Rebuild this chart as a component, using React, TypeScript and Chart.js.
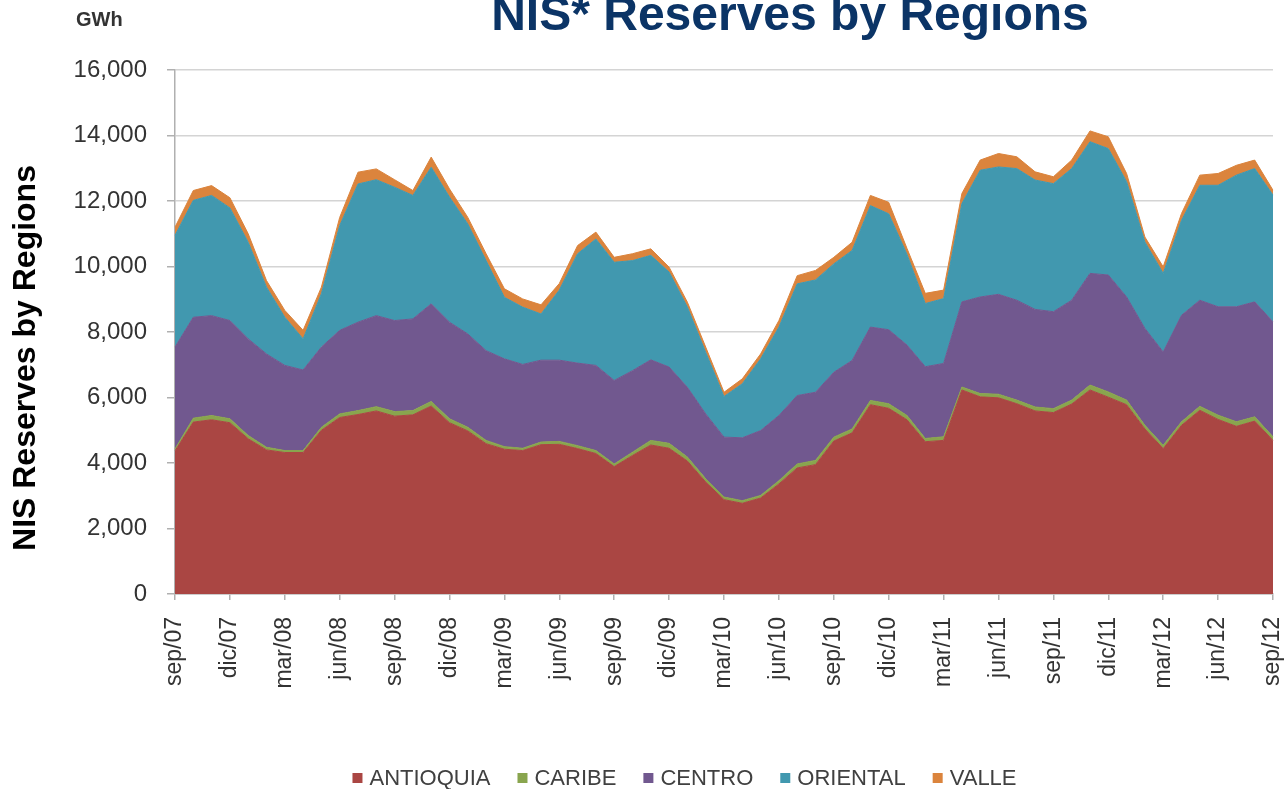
import React, { useEffect, useRef } from 'react';
import { Chart, registerables } from 'chart.js';

Chart.register(...registerables);

const categories = [
  'sep/07', 'oct/07', 'nov/07', 'dic/07',
  'ene/08', 'feb/08', 'mar/08', 'abr/08', 'may/08', 'jun/08', 'jul/08', 'ago/08', 'sep/08', 'oct/08', 'nov/08', 'dic/08',
  'ene/09', 'feb/09', 'mar/09', 'abr/09', 'may/09', 'jun/09', 'jul/09', 'ago/09', 'sep/09', 'oct/09', 'nov/09', 'dic/09',
  'ene/10', 'feb/10', 'mar/10', 'abr/10', 'may/10', 'jun/10', 'jul/10', 'ago/10', 'sep/10', 'oct/10', 'nov/10', 'dic/10',
  'ene/11', 'feb/11', 'mar/11', 'abr/11', 'may/11', 'jun/11', 'jul/11', 'ago/11', 'sep/11', 'oct/11', 'nov/11', 'dic/11',
  'ene/12', 'feb/12', 'mar/12', 'abr/12', 'may/12', 'jun/12', 'jul/12', 'ago/12', 'sep/12',
];

const antioquia = [
  4370, 5250, 5320, 5230, 4740, 4400, 4320, 4320, 5000, 5390,
  5480, 5590, 5430, 5470, 5740, 5230, 4980, 4590, 4420, 4380,
  4560, 4570, 4440, 4290, 3890, 4230, 4550, 4450, 4060, 3420,
  2880, 2770, 2930, 3360, 3850, 3950, 4670, 4920, 5780, 5670,
  5320, 4650, 4690, 6230, 6020, 5990, 5810, 5590, 5540, 5800,
  6230, 6010, 5780, 5040, 4440, 5150, 5610, 5330, 5120, 5280,
  4690,
];

const caribe = [
  60, 120, 130, 120, 100, 80, 60, 60, 90, 110,
  120, 130, 140, 130, 140, 120, 110, 100, 80, 70,
  80, 90, 90, 90, 80, 100, 140, 150, 120, 100,
  80, 80, 80, 100, 120, 130, 120, 120, 130, 140,
  130, 100, 110, 90, 100, 110, 110, 120, 120, 120,
  150, 160, 140, 110, 100, 110, 120, 130, 140, 130,
  110,
];

const centro = [
  3110, 3080, 3050, 3000, 2950, 2850, 2600, 2460, 2450, 2550,
  2700, 2780, 2780, 2800, 2980, 2950, 2850, 2740, 2680, 2560,
  2500, 2480, 2520, 2600, 2550, 2490, 2460, 2330, 2130, 1980,
  1830, 1920, 1980, 1990, 2090, 2080, 1980, 2090, 2240, 2260,
  2150, 2190, 2240, 2600, 2950, 3050, 3050, 2980, 2960, 3050,
  3410, 3570, 3150, 2960, 2850, 3250, 3240, 3310, 3510, 3510,
  3510,
];

const oriental = [
  3410, 3570, 3670, 3440, 2950, 2040, 1470, 950, 1630, 3200,
  4220, 4150, 4070, 3770, 4170, 3820, 3360, 2750, 1880, 1750,
  1410, 2140, 3340, 3860, 3610, 3360, 3190, 2900, 2450, 1880,
  1240, 1650, 2190, 2700, 3410, 3430, 3310, 3360, 3710, 3540,
  2770, 1930, 1980, 3000, 3870, 3890, 4020, 3950, 3910, 4020,
  4020, 3860, 3520, 2640, 2400, 2900, 3510, 3710, 4020, 4070,
  3870,
];

const valle = [
  250, 300, 300, 310, 260, 200, 210, 260, 200, 250,
  360, 330, 230, 150, 310, 250, 200, 210, 260, 250,
  280, 200, 250, 210, 150, 210, 200, 150, 150, 160,
  130, 150, 150, 200, 250, 290, 200, 250, 310, 350,
  180, 310, 260, 310, 310, 410, 360, 250, 210, 260,
  330, 360, 250, 150, 200, 210, 310, 360, 300, 260,
  150,
];

const seriesNames = ['ANTIOQUIA', 'CARIBE', 'CENTRO', 'ORIENTAL', 'VALLE'];
const seriesColors = ['#AA4643', '#89A54E', '#71588F', '#4198AF', '#DB843D'];

const FONT = '"Liberation Sans", Arial, sans-serif';

const textPlugin = {
  id: 'customTexts',
  afterDraw(chart: any) {
    const ctx: CanvasRenderingContext2D = chart.ctx;
    ctx.save();
    // Title
    ctx.fillStyle = '#0b3466';
    ctx.font = `bold 48px ${FONT}`;
    ctx.textAlign = 'center';
    ctx.textBaseline = 'alphabetic';
    ctx.fillText('NIS* Reserves by Regions', 790, 30);
    // Unit
    ctx.fillStyle = '#333333';
    ctx.font = `bold 20px ${FONT}`;
    ctx.textAlign = 'left';
    ctx.fillText('GWh', 76, 26);
    ctx.restore();

    // Y-axis title
    ctx.save();
    ctx.translate(35, 358);
    ctx.rotate(-Math.PI / 2);
    ctx.fillStyle = '#000000';
    ctx.font = `bold 32px ${FONT}`;
    ctx.textAlign = 'center';
    ctx.textBaseline = 'alphabetic';
    ctx.fillText('NIS Reserves by Regions', 0, 0);
    ctx.restore();

    // Legend
    ctx.save();
    ctx.font = `22px ${FONT}`;
    ctx.textBaseline = 'middle';
    ctx.textAlign = 'left';
    const box = 10;
    const gapText = 7;
    const gapItem = 27;
    const widths = seriesNames.map((n) => ctx.measureText(n).width);
    let total = 0;
    widths.forEach((w, i) => {
      total += box + gapText + w + (i < widths.length - 1 ? gapItem : 0);
    });
    let x = 684.5 - total / 2;
    const cy = 778;
    seriesNames.forEach((n, i) => {
      ctx.fillStyle = seriesColors[i];
      ctx.fillRect(x, cy - box / 2, box, box);
      x += box + gapText;
      ctx.fillStyle = '#404040';
      ctx.fillText(n, x, cy + 1);
      x += widths[i] + gapItem;
    });
    ctx.restore();
  },
};

export default function App() {
  const ref = useRef<HTMLCanvasElement>(null);

  useEffect(() => {
    if (!ref.current) return;
    Chart.defaults.font.family = FONT;
    const dataArrays = [antioquia, caribe, centro, oriental, valle];
    const chart = new Chart(ref.current, {
      type: 'line',
      data: {
        labels: categories,
        datasets: dataArrays.map((d, i) => ({
          label: seriesNames[i],
          data: d,
          backgroundColor: seriesColors[i],
          borderColor: seriesColors[i],
          borderWidth: 1,
          pointRadius: 0,
          tension: 0,
          fill: i === 0 ? 'origin' : '-1',
        })),
      },
      options: {
        responsive: false,
        animation: false,
        devicePixelRatio: 1,
        events: [],
        layout: { padding: { top: 70, right: 15, left: 0, bottom: 0 } },
        plugins: {
          legend: { display: false },
          tooltip: { enabled: false },
          title: { display: false },
        },
        scales: {
          x: {
            type: 'category',
            offset: false,
            grid: {
              display: true,
              drawOnChartArea: false,
              drawTicks: true,
              tickLength: 6,
              lineWidth: 1.5,
              tickColor: (c: any) => (c.index % 3 === 0 ? '#b0b0b0' : 'rgba(0,0,0,0)'),
            },
            border: { display: true, color: '#b0b0b0', width: 1.5 },
            ticks: {
              autoSkip: false,
              minRotation: 90,
              maxRotation: 90,
              padding: 17,
              color: '#333333',
              font: { size: 23, family: FONT },
              callback: (_v: any, i: number) => (i % 3 === 0 ? categories[i] : ''),
            },
            afterFit: (s: any) => {
              s.height = 195;
              s.paddingLeft = 0;
              s.paddingRight = 0;
            },
          },
          y: {
            stacked: true,
            min: 0,
            max: 16000,
            grid: {
              color: '#d4d4d4',
              lineWidth: 1.5,
              tickLength: 8,
              tickColor: '#b0b0b0',
            },
            border: { display: true, color: '#b0b0b0', width: 1.5 },
            ticks: {
              stepSize: 2000,
              padding: 20,
              color: '#333333',
              font: { size: 24, family: FONT },
              callback: (v: any) => Number(v).toLocaleString('en-US'),
            },
            afterFit: (s: any) => {
              s.width = 175;
              s.paddingTop = 0;
              s.paddingBottom = 0;
            },
          },
        },
      },
      plugins: [textPlugin],
    } as any);
    return () => chart.destroy();
  }, []);

  return (
    <div style={{ position: 'fixed', left: 0, top: 0, width: 1288, height: 789, background: '#ffffff' }}>
      <canvas ref={ref} width={1288} height={789} style={{ display: 'block', width: 1288, height: 789 }} />
    </div>
  );
}
